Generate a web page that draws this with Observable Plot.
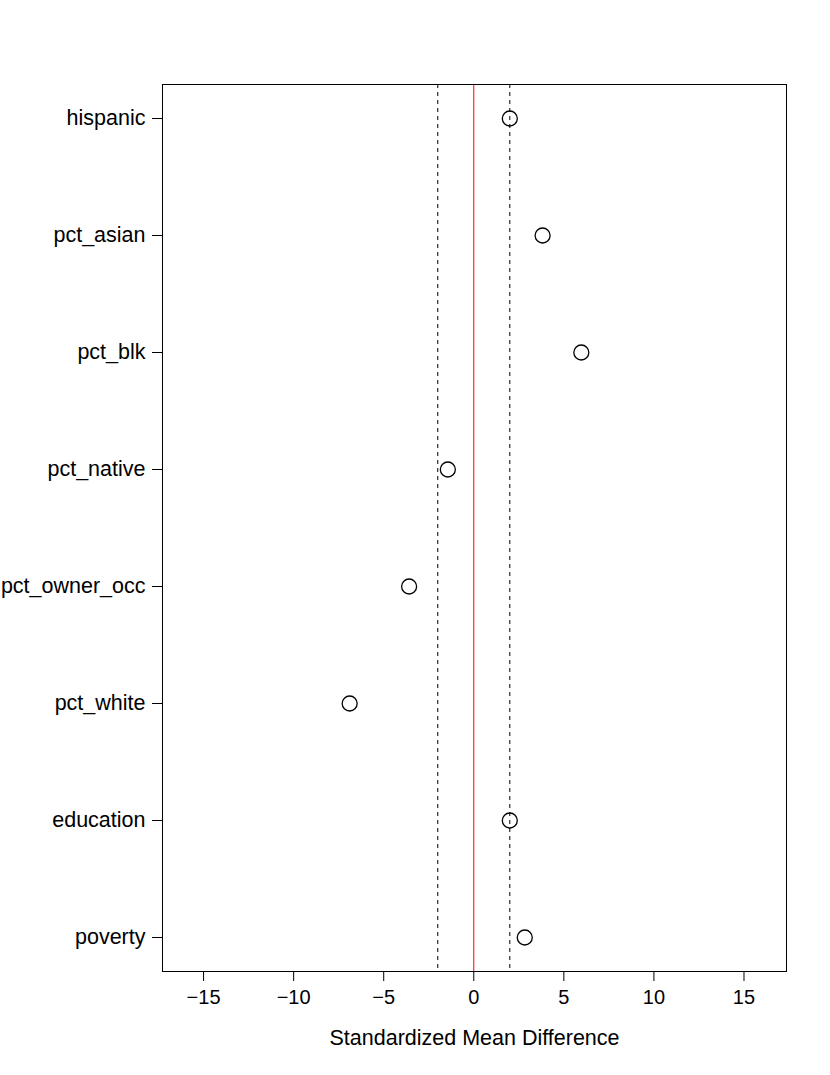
<!DOCTYPE html>
<html>
<head>
<meta charset="utf-8">
<script src="https://cdn.jsdelivr.net/npm/d3@7"></script>
<script src="https://cdn.jsdelivr.net/npm/@observablehq/plot@0.6"></script>
<style>
  html, body { margin: 0; padding: 0; background: #fff; }
  #chart svg { display: block; }
</style>
</head>
<body>
<div id="chart"></div>
<script>
const categories = ["hispanic", "pct_asian", "pct_blk", "pct_native", "pct_owner_occ", "pct_white", "education", "poverty"];
const smd = [2.0, 3.82, 5.97, -1.44, -3.59, -6.89, 2.0, 2.83];
const xTicks = [-15, -10, -5, 0, 5, 10, 15];
const thresholds = [-2, 2];
const xLabel = "Standardized Mean Difference";

const data = categories.map((c, i) => ({name: c, value: smd[i]}));

const chart = Plot.plot({
  width: 830,
  height: 1075,
  marginLeft: 162,
  marginRight: 44,
  marginTop: 84,
  marginBottom: 104,
  style: {fontFamily: "'Liberation Sans', Arial, Helvetica, sans-serif", color: "#000", background: "#fff"},
  x: {domain: [-17.28, 17.36]},
  y: {type: "point", domain: categories, padding: 0.28},
  marks: [
    Plot.ruleX(thresholds, {stroke: "#000", strokeWidth: 1, strokeDasharray: "4,4"}),
    Plot.ruleX([0], {stroke: "#ff0000", strokeWidth: 1}),
    Plot.dot(data, {x: "value", y: "name", r: 7.5, stroke: "#000", strokeWidth: 1.3, fill: "none"}),
    Plot.frame({stroke: "#000", strokeWidth: 1}),
    Plot.axisX({ticks: xTicks, tickSize: 10, tickPadding: 8, fontSize: 20, label: null}),
    Plot.axisX({ticks: [], tickSize: 0, fontSize: 21.5,
      label: xLabel, labelAnchor: "center", labelArrow: "none", labelOffset: 73}),
    Plot.axisY({tickSize: 10, tickPadding: 7, fontSize: 21.5, label: null})
  ]
});
document.getElementById("chart").appendChild(chart);
</script>
</body>
</html>
